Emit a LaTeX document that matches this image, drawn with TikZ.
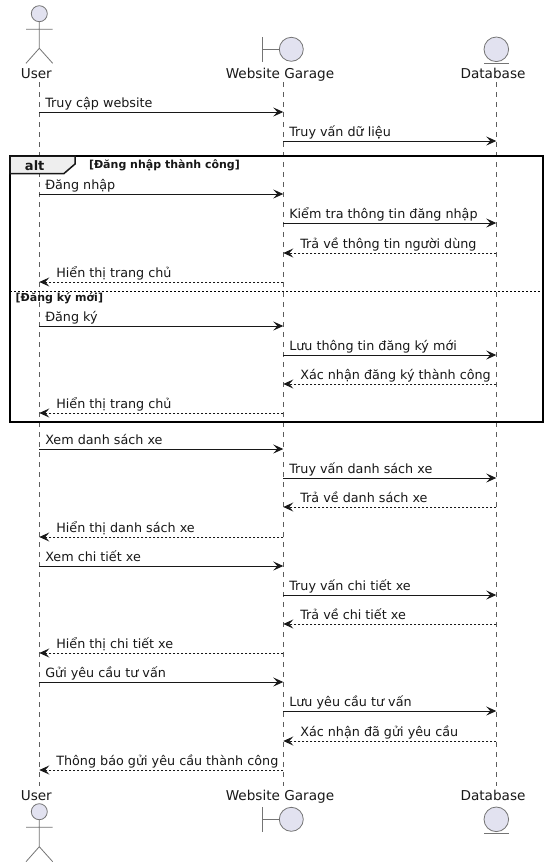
\documentclass[tikz,border=0pt]{standalone}
\usepackage{fontspec}
\setmainfont{DejaVu Sans}
\usetikzlibrary{arrows.meta,calc}
\definecolor{partfill}{HTML}{E2E2F0}
\definecolor{partline}{HTML}{181818}
\definecolor{tabfill}{HTML}{EEEEEE}
\tikzset{
    every node/.style={inner sep=0pt, outer sep=0pt, text=partline},
    part/.style={draw=partline!60, fill=partfill, line width=0.8pt},
    stick/.style={draw=partline!60, line width=0.8pt},
    lifeline/.style={draw=partline!70, line width=0.6pt, dash pattern=on 5pt off 5pt},
    partlabel/.style={font=\fontsize{13.6}{16}\selectfont, anchor=base},
    msglabel/.style={font=\fontsize{12.75}{15}\selectfont, anchor=base west},
    call/.style={draw=partline, line width=1pt, -{Stealth[length=10pt,width=9pt,inset=4pt]}},
    reply/.style={call, dash pattern=on 2pt off 2pt},
    altframe/.style={draw=black, line width=2pt}
}
\begin{document}
\begin{tikzpicture}[x=1pt,y=-1pt]
\useasboundingbox[fill=white] (0,0) rectangle (548,867);
\coordinate (user) at (39.3,0);
\coordinate (web) at (283.3,0);
\coordinate (db) at (496.3,0);
% lifelines
\foreach \who in {user,web,db} {
  \draw[lifeline] (\who |- 0,82) -- (\who |- 0,786);
}
% alt frame
\coordinate (frameA) at (10,156);
\coordinate (frameB) at (542.5,421.5);
\draw[altframe] (frameA) rectangle (frameB);
\draw[draw=partline, line width=1.5pt, fill=tabfill] (frameA) -- (75,156) -- (75,164) -- (64,173.5) -- (10,173.5) -- cycle;
\draw[black, line width=0.8pt, dash pattern=on 2pt off 2pt] (10,291) coordinate (sepA) -- (542,291) coordinate (sepB);
\node[font=\fontsize{13}{15}\selectfont\bfseries, anchor=base] (alttag) at (34.7,170) {alt};
\node[font=\fontsize{11}{13}\selectfont\bfseries, anchor=base west] (guardA) at (89,168) {[Đăng nhập thành công]};
\node[font=\fontsize{11}{13}\selectfont\bfseries, anchor=base west] (guardB) at (15.7,301) {[Đăng ký mới]};
% messages
\foreach \n/\y/\from/\to/\kind/\gap/\txt in {
  1/112/user/web/call/6/Truy cập website,
  2/141/web/db/call/6/Truy vấn dữ liệu,
  3/194/user/web/call/6/Đăng nhập,
  4/223/web/db/call/6/Kiểm tra thông tin đăng nhập,
  5/253/db/web/reply/17/Trả về thông tin người dùng,
  6/282/web/user/reply/17/Hiển thị trang chủ,
  7/326/user/web/call/6/Đăng ký,
  8/355/web/db/call/6/Lưu thông tin đăng ký mới,
  9/384/db/web/reply/17/Xác nhận đăng ký thành công,
  10/413/web/user/reply/17/Hiển thị trang chủ,
  11/449/user/web/call/6/Xem danh sách xe,
  12/478/web/db/call/6/Truy vấn danh sách xe,
  13/507/db/web/reply/17/Trả về danh sách xe,
  14/537/web/user/reply/17/Hiển thị danh sách xe,
  15/566/user/web/call/6/Xem chi tiết xe,
  16/595/web/db/call/6/Truy vấn chi tiết xe,
  17/624/db/web/reply/17/Trả về chi tiết xe,
  18/653/web/user/reply/17/Hiển thị chi tiết xe,
  19/682/user/web/call/6/Gửi yêu cầu tư vấn,
  20/711/web/db/call/6/Lưu yêu cầu tư vấn,
  21/741/db/web/reply/17/Xác nhận đã gửi yêu cầu,
  22/770/web/user/reply/17/Thông báo gửi yêu cầu thành công} {
  \coordinate (from\n) at (\from |- 0,\y);
  \coordinate (to\n) at (\to |- 0,\y);
  \draw[\kind] (from\n) -- (to\n);
  \ifnum\gap=6
    \node[msglabel] (msg\n) at ($(from\n)+(\gap,-4.5)$) {\txt};
  \else
    \node[msglabel] (msg\n) at ($(to\n)+(\gap,-4.5)$) {\txt};
  \fi
}
% participants, top and bottom
\foreach \pos/\ly in {top/78,bot/800} {
  \node[partlabel] (user\pos) at (36.3,\ly) {User};
  \node[partlabel] (web\pos) at (280,\ly) {Website Garage};
  \node[partlabel] (db\pos) at (493,\ly) {Database};
}
% top icons
\draw[part] (39.3,13.7) circle[radius=8];
\draw[stick] (39.3,21.7) -- (39.3,48.3) (26,29.3) -- (52.7,29.3) (26,63.3) -- (39.3,48.3) -- (52.7,63.3);
\draw[stick] (262.3,37.3) -- (262.3,61.7) (262.3,49.3) -- (279.3,49.3);
\draw[part] (291.3,49.3) circle[radius=12];
\draw[part] (496.3,49.3) circle[radius=12.3];
\draw[stick] (484,63.3) -- (509,63.3);
% bottom icons
\draw[part] (39.3,811.7) circle[radius=8];
\draw[stick] (39.3,819.7) -- (39.3,846.7) (26,827.3) -- (52.7,827.3) (26,861.7) -- (39.3,846.7) -- (52.7,861.7);
\draw[stick] (262.3,807.3) -- (262.3,831.7) (262.3,819.3) -- (279.3,819.3);
\draw[part] (291.3,819.3) circle[radius=12];
\draw[part] (496.3,819.3) circle[radius=12.3];
\draw[stick] (484,833.3) -- (509,833.3);
\end{tikzpicture}
\end{document}
